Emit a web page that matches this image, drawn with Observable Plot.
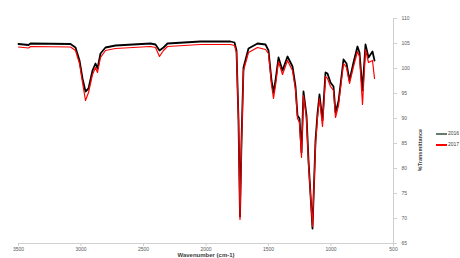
<!DOCTYPE html>
<html><head><meta charset="utf-8">
<script src="https://cdn.jsdelivr.net/npm/d3@7"></script>
<script src="https://cdn.jsdelivr.net/npm/@observablehq/plot@0.6"></script>
<style>
body{margin:0;background:#fff;}
#wrap{position:relative;width:460px;height:258px;overflow:hidden;font-family:"Liberation Sans",Arial,sans-serif;}
.leg{position:absolute;font-size:5px;color:#404040;white-space:nowrap;line-height:6px;}
.sw{display:inline-block;width:11px;height:2px;vertical-align:middle;margin-right:1px;}
</style></head>
<body><div id="wrap"></div>
<script>
const wavenumbers = [3500,3420,3404,3084,3044,3012,2988,2964,2940,2908,2884,2868,2844,2804,2724,2444,2404,2372,2340,2308,2044,1804,1772,1756,1740,1728,1716,1700,1660,1588,1524,1500,1476,1460,1444,1420,1388,1348,1308,1284,1268,1252,1236,1220,1196,1180,1148,1124,1108,1092,1068,1044,1028,1004,980,964,940,900,876,852,820,788,772,748,724,700,668,652];
const seriesBlack = [104.9,104.7,105.0,104.9,104.2,101.6,98.0,95.4,96.0,99.6,101.0,100.0,103.0,104.2,104.6,105.0,104.8,103.6,104.2,105.0,105.4,105.4,105.2,103.6,89.6,70.4,85.6,100.2,104.0,105.0,104.8,103.6,97.6,95.2,97.6,102.2,99.6,102.4,100.4,96.4,90.6,90.0,83.2,95.4,90.6,81.6,68.0,85.6,91.0,94.8,89.6,99.2,99.0,97.2,96.4,91.2,93.4,101.8,101.0,97.6,101.2,104.4,103.2,95.6,104.8,102.2,103.4,101.6];
const seriesRed = [104.3,104.1,104.4,104.3,103.6,101.0,97.2,93.6,95.2,98.8,100.2,99.2,102.2,103.6,104.0,104.4,104.2,102.4,103.6,104.4,104.8,104.8,104.6,103.2,89.6,69.8,84.6,99.6,103.2,104.2,103.8,103.0,96.8,94.0,96.6,101.4,98.8,101.6,99.6,95.8,90.0,89.2,82.2,94.6,90.0,81.0,68.4,84.8,90.2,94.0,88.4,98.4,98.0,96.4,95.6,90.2,92.6,101.0,100.2,97.0,100.4,103.4,102.4,92.8,103.8,101.2,101.6,98.0];
const xTicks = [3500,3000,2500,2000,1500,1000,500];
const yTicks = [65,70,75,80,85,90,95,100,105,110];
const seriesNames = ["2016","2017"];

const black = wavenumbers.map((w,i)=>({w, t: seriesBlack[i]}));
const red = wavenumbers.map((w,i)=>({w, t: seriesRed[i]}));

const chart = Plot.plot({
  width: 460, height: 258,
  marginLeft: 18, marginRight: 67, marginTop: 18, marginBottom: 15,
  style: {fontFamily: "Liberation Sans, Arial, sans-serif", fontSize: "5px", color: "#595959", background: "#fff"},
  x: {domain: [3500, 500]},
  y: {domain: [65, 110]},
  marks: [
    Plot.ruleY([65], {stroke: "#d0d0d0"}),
    Plot.ruleX([500], {stroke: "#d0d0d0"}),
    Plot.axisX({ticks: xTicks, tickFormat: d3.format("d"), tickSize: 3, tickPadding: 1, stroke: "#d0d0d0", fill: "#595959", label: null, fontSize: 5}),
    Plot.axisY({anchor: "right", ticks: yTicks, tickFormat: d3.format("d"), tickSize: 3, tickPadding: 5, stroke: "#d0d0d0", fill: "#595959", label: null, fontSize: 5}),
    Plot.lineY(black, {x: "w", y: "t", stroke: "#000", strokeWidth: 1.8}),
    Plot.lineY(red, {x: "w", y: "t", stroke: "#ff0000", strokeWidth: 1.2}),
    Plot.text(["%Transmittance"], {frameAnchor: "right", dx: 27, dy: -2, rotate: -90, fontSize: 5.5, fontWeight: "bold", fill: "#404040"}),
    Plot.text(["Wavenumber (cm-1)"], {frameAnchor: "bottom", dy: 13, fontSize: 6, fontWeight: "bold", fill: "#404040"})
  ]
});
const wrap = document.getElementById("wrap");
wrap.appendChild(chart);
const legColors = ["#6b7b6b", "#ff0000"];
const legY = [130, 141];
seriesNames.forEach((n,i)=>{
  const d = document.createElement("div");
  d.className = "leg";
  d.style.left = "436px"; d.style.top = legY[i] + "px";
  d.innerHTML = `<span class="sw" style="background:${legColors[i]}"></span>${n}`;
  wrap.appendChild(d);
});
</script></body></html>
